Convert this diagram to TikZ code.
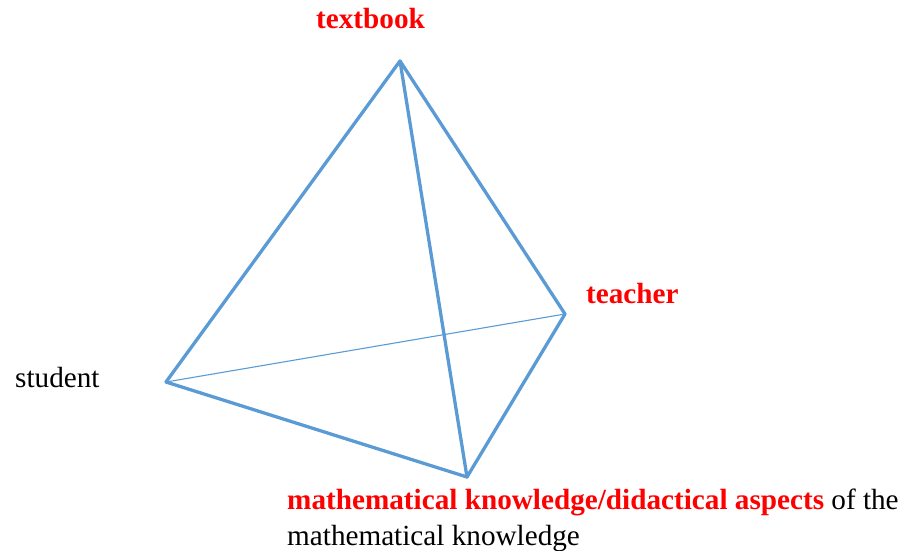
\documentclass[tikz,border=0pt]{standalone}
\usepackage{fontspec}
\setmainfont{Liberation Serif}
\definecolor{edgeblue}{RGB}{91,155,213}
\definecolor{labred}{RGB}{255,0,0}
\begin{document}
\begin{tikzpicture}[x=1pt,y=-1pt,
  edge/.style={draw=edgeblue,line width=3.3pt,line join=round,line cap=round},
  thinedge/.style={draw=edgeblue,line width=1.1pt},
  lab/.style={inner sep=0pt,anchor=base west,font=\fontsize{29.2}{35}\selectfont},
  redlab/.style={lab,text=labred,font=\fontsize{29.2}{35}\selectfont\bfseries}]
\useasboundingbox (0,0) rectangle (903,551);
\coordinate (T) at (400,61);
\coordinate (R) at (565,314);
\coordinate (S) at (166,382);
\coordinate (B) at (467,477);
\draw[thinedge] (S) -- (R);
\draw[edge] (T) -- (S);
\draw[edge] (T) -- (R);
\draw[edge] (T) -- (B);
\draw[edge] (S) -- (B);
\draw[edge] (R) -- (B);
\node[redlab] (ltext) at (316,29) {textbook};
\node[redlab] (lteach) at (586,303) {teacher};
\node[lab] (lstud) at (15,387) {student};
\node[lab] (lmath1) at (287,509) {\textcolor{labred}{\bfseries mathematical knowledge/didactical aspects} of the};
\node[lab] (lmath2) at (287,545) {mathematical knowledge};
\end{tikzpicture}
\end{document}
